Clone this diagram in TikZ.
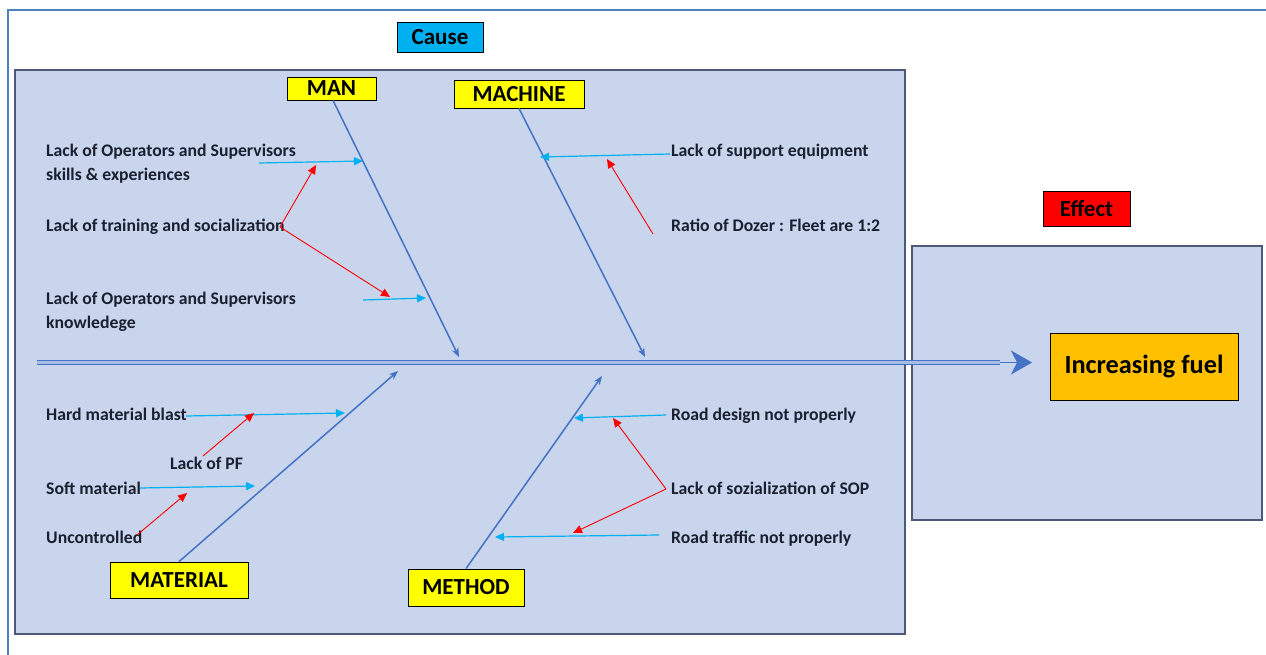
\documentclass[tikz,border=0pt]{standalone}
\usepackage{fontspec}
\setmainfont{Carlito}
\usetikzlibrary{arrows.meta}
\definecolor{boxfill}{HTML}{C9D5EC}
\definecolor{boxline}{HTML}{4A5A78}
\definecolor{framecol}{HTML}{4F81BD}
\definecolor{bonecol}{HTML}{4472C4}
\definecolor{spinemid}{HTML}{A8BDE4}
\definecolor{subcol}{HTML}{00B0F0}
\definecolor{causecol}{HTML}{00B0F0}
\definecolor{effcol}{HTML}{FF0000}
\definecolor{labyel}{HTML}{FFFF00}
\definecolor{fuelcol}{HTML}{FFC000}
\definecolor{txtcol}{HTML}{1A2030}
\begin{document}
\begin{tikzpicture}[x=1pt,y=-1pt,
  lbl/.style={draw=black, line width=0.8pt, inner sep=0pt, font=\bfseries\fontsize{23}{27}\selectfont},
  txt/.style={anchor=base west, inner sep=0pt, font=\bfseries\fontsize{17.7}{24}\selectfont, text=txtcol, align=left},
  bone/.style={draw=bonecol, line width=1.5pt, -{Stealth[length=9pt,width=7pt]}},
  sub/.style={draw=subcol, line width=1.2pt, -{Triangle[length=9pt,width=8pt]}},
  redarr/.style={draw=red, line width=0.9pt, -{Triangle[length=9pt,width=8pt]}},
  area/.style={draw=boxline, line width=1.2pt, fill=boxfill}]
\useasboundingbox (0,0) rectangle (1266,655);
% outer frame
\draw[framecol, line width=2pt] (8,655) -- (8,10) -- (1266,10);
% areas
\draw[area] (15,70) rectangle (905,634);
\draw[area] (912,246) rectangle (1262,520);
% headings
\node[lbl, fill=causecol, minimum width=86pt, minimum height=30pt] (cause) at (440,37) {Cause};
\node[lbl, fill=effcol, minimum width=87pt, minimum height=35pt] (effect) at (1086.5,208.5) {Effect};
\node[lbl, fill=fuelcol, minimum width=188pt, minimum height=67pt, font=\bfseries\fontsize{26.3}{30}\selectfont] (fuel) at (1144,366.5) {Increasing fuel};
% category labels
\node[lbl, fill=labyel, minimum width=89pt, minimum height=23pt] (man) at (331.5,88.5) {MAN};
\node[lbl, fill=labyel, minimum width=130pt, minimum height=28pt] (machine) at (519,94) {MACHINE};
\node[lbl, fill=labyel, minimum width=138pt, minimum height=36pt] (material) at (179,580) {MATERIAL};
\node[lbl, fill=labyel, minimum width=116pt, minimum height=37pt] (method) at (466,587.5) {METHOD};
% spine
\coordinate (tail) at (37,362.5);
\coordinate (head) at (1032,362.5);
\coordinate (headbase) at (1000,362.5);
\draw[draw=bonecol, double=spinemid, double distance=2.2pt, line width=1.7pt] (tail) -- (headbase);
\draw[draw=bonecol, line width=1.2pt, -{Stealth[length=21pt,width=24pt,inset=6pt]}] (headbase) -- (head);
% bones
\coordinate (manh) at (459,357);
\coordinate (mach) at (645,357);
\coordinate (math) at (398,371);
\coordinate (meth) at (602,376);
\draw[bone] (man.south) ++(1.5,0) -- (manh);
\draw[bone] (machine.south) -- (mach);
\draw[bone] (material.north) -- (math);
\draw[bone] (method.north) -- (meth);
% texts
\node[txt] (t1) at (46,181) {Lack of Operators and Supervisors\\skills \& experiences};
\node[txt] (t2) at (46,232) {Lack of training and socialization};
\node[txt] (t3) at (46,328) {Lack of Operators and Supervisors\\knowledege};
\node[txt] (t4) at (671,157) {Lack of support equipment};
\node[txt] (t5) at (671,232) {Ratio of Dozer : Fleet are 1:2};
\node[txt] (t6) at (46,420) {Hard material blast};
\node[txt] (t7) at (170,469) {Lack of PF};
\node[txt] (t8) at (46,494) {Soft material};
\node[txt] (t9) at (46,543) {Uncontrolled};
\node[txt] (t10) at (671,420) {Road design not properly};
\node[txt] (t11) at (671,494) {Lack of sozialization of SOP};
\node[txt] (t12) at (671,543) {Road traffic not properly};
% blue sub-arrows
\coordinate (b1s) at (259,163); \coordinate (b1e) at (363,161);
\coordinate (b2s) at (363,300); \coordinate (b2e) at (426,298);
\coordinate (b3s) at (670,154); \coordinate (b3e) at (540,157);
\coordinate (b4s) at (186,416); \coordinate (b4e) at (345,413);
\coordinate (b5s) at (140,488); \coordinate (b5e) at (255,486);
\coordinate (b6s) at (666,415); \coordinate (b6e) at (574,418);
\coordinate (b7s) at (659,535); \coordinate (b7e) at (495,537);
\draw[sub] (b1s) -- (b1e);
\draw[sub] (b2s) -- (b2e);
\draw[sub] (b3s) -- (b3e);
\draw[sub] (b4s) -- (b4e);
\draw[sub] (b5s) -- (b5e);
\draw[sub] (b6s) -- (b6e);
\draw[sub] (b7s) -- (b7e);
% red arrows
\coordinate (r1s) at (280,227); \coordinate (r1e) at (316,165); \coordinate (r2e) at (390,297);
\coordinate (r3s) at (653,234); \coordinate (r3e) at (607,159);
\coordinate (r4s) at (203,456); \coordinate (r4e) at (254,413);
\coordinate (r5s) at (137,535); \coordinate (r5e) at (187,493);
\coordinate (r6s) at (666,489); \coordinate (r6e) at (613,418); \coordinate (r7e) at (573,533);
\draw[redarr] (r1s) -- (r1e);
\draw[redarr] (r1s) -- (r2e);
\draw[redarr] (r3s) -- (r3e);
\draw[redarr] (r4s) -- (r4e);
\draw[redarr] (r5s) -- (r5e);
\draw[redarr] (r6s) -- (r6e);
\draw[redarr] (r6s) -- (r7e);
\end{tikzpicture}
\end{document}
